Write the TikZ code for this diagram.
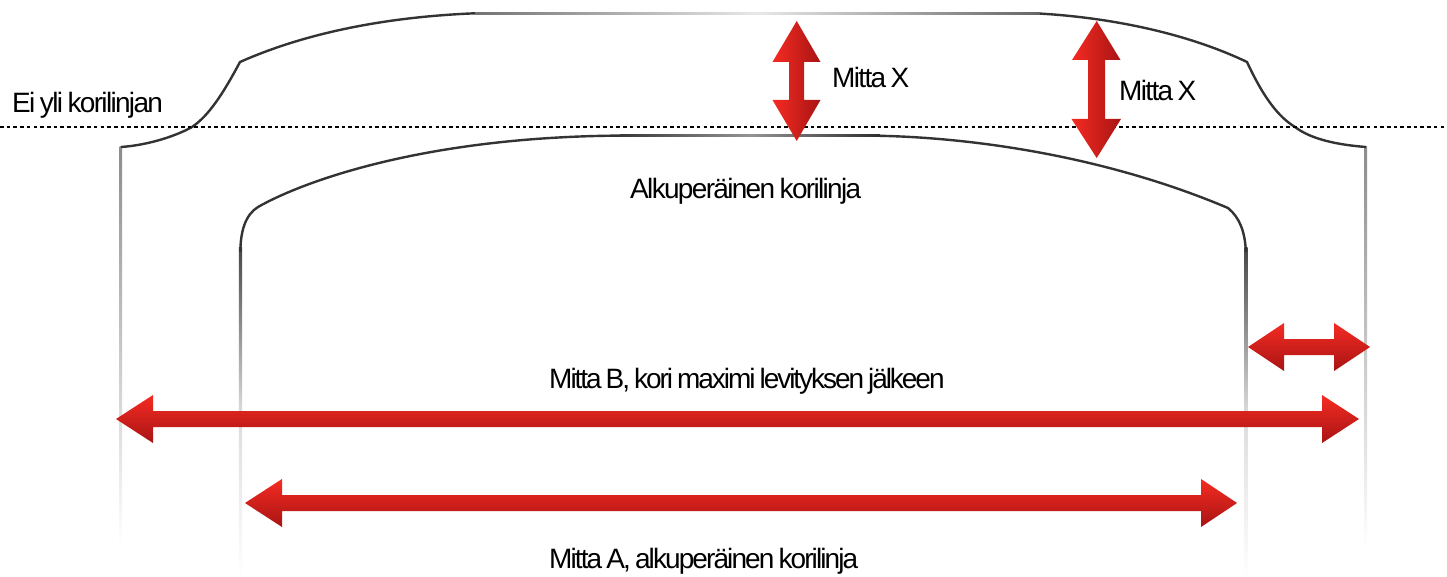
\documentclass[tikz,border=0pt]{standalone}
\usepackage{fontspec}
\setmainfont[LetterSpace=-6,WordSpace=.75]{Liberation Sans}
\newfontfamily\tightA[LetterSpace=-6.8,WordSpace=.7]{Liberation Sans}
\newfontfamily\tightB[LetterSpace=-7.3,WordSpace=.7]{Liberation Sans}
\definecolor{arrowlight}{HTML}{F52B22}
\definecolor{arrowdark}{HTML}{A81414}
\definecolor{curvegray}{HTML}{333333}
\tikzset{
  hgrad/.style={top color=arrowlight,bottom color=arrowdark,shading angle=0},
  vgrad/.style={left color=arrowlight,right color=arrowdark},
  curve/.style={draw=curvegray,line width=2.4pt,line join=round},
  label/.style={anchor=base west,inner sep=0pt,font=\fontsize{28}{30}\selectfont,text=black},
  sideline/.style n args={2}{top color=#1,bottom color=white,middle color=#2,draw=none},
}
\begin{document}
\begin{tikzpicture}[x=1pt,y=-1pt]
\useasboundingbox (0,0) rectangle (1447,577);
% fading vertical side lines
\shade[sideline={black!45}{black!22}] (119.5,147) rectangle (122,545);
\shade[sideline={black!72}{black!14}] (238.8,248) rectangle (242,577);
\shade[sideline={black!72}{black!14}] (1244.3,248) rectangle (1247.5,577);
\shade[sideline={black!45}{black!22}] (1364,147) rectangle (1367,545);
% outer body line
\draw[curve] (121,147) .. controls (150,145) and (178,135) .. (192,127)
  .. controls (210,115) and (225,90) .. (240,62)
  .. controls (285,42) and (360,18) .. (475,13.3);
\shade[left color=black!55,right color=black!60,middle color=black!9] (475,12.1) rectangle (1040,14.9);
\draw[curve] (1040,13.6) .. controls (1100,17) and (1180,30) .. (1247,62)
  .. controls (1260,90) and (1275,115) .. (1295,127)
  .. controls (1312,140) and (1340,145) .. (1366,147);
% original body line
\draw[curve] (240.4,252) .. controls (240.4,232) and (245,215) .. (258,207)
  .. controls (300,183) and (420,137) .. (620,135.6);
\shade[left color=black!78,right color=black!82,middle color=black!42] (620,134.3) rectangle (880,136.9);
\draw[curve] (880,135.8) .. controls (980,138) and (1110,158) .. (1228,208)
  .. controls (1240,218) and (1245,232) .. (1245.9,252);
% body line limit
\draw[black,line width=1.3pt,dash pattern=on 3.6pt off 3.1pt] (0,127) -- (1447,127);
% red measure arrows
\shade[vgrad] (796.7,21) -- (820.5,62) -- (804,62) -- (804,100) -- (820.5,100) -- (796.7,141) -- (772.5,100) -- (789,100) -- (789,62) -- (772.5,62) -- cycle;
\shade[vgrad] (1096.7,21) -- (1120.5,60) -- (1105,60) -- (1105,119) -- (1121,119) -- (1096.7,158) -- (1071.5,119) -- (1088,119) -- (1088,60) -- (1072,60) -- cycle;
\shade[hgrad] (1248,347) -- (1284,323) -- (1284,339) -- (1334,339) -- (1334,323) -- (1370,347) -- (1334,371) -- (1334,355) -- (1284,355) -- (1284,371) -- cycle;
\shade[hgrad] (116,419) -- (153,395) -- (153,411) -- (1322,411) -- (1322,395) -- (1359,419) -- (1322,443) -- (1322,427) -- (153,427) -- (153,443) -- cycle;
\shade[hgrad] (245,503) -- (282,479) -- (282,495) -- (1201,495) -- (1201,479) -- (1237,503) -- (1201,527) -- (1201,511) -- (282,511) -- (282,527) -- cycle;
% labels
\node[label] (limit) at (12,112.5) {Ei yli korilinjan};
\node[label] (xone) at (832,87.5) {Mitta X};
\node[label] (xtwo) at (1119,100.5) {Mitta X};
\node[label] (orig) at (630,198.5) {Alkuperäinen korilinja};
\node[label] (mb) at (549,388.5) {\tightB Mitta B, kori maximi levityksen jälkeen};
\node[label] (ma) at (549,568.5) {\tightA Mitta A, alkuperäinen korilinja};
\end{tikzpicture}
\end{document}
